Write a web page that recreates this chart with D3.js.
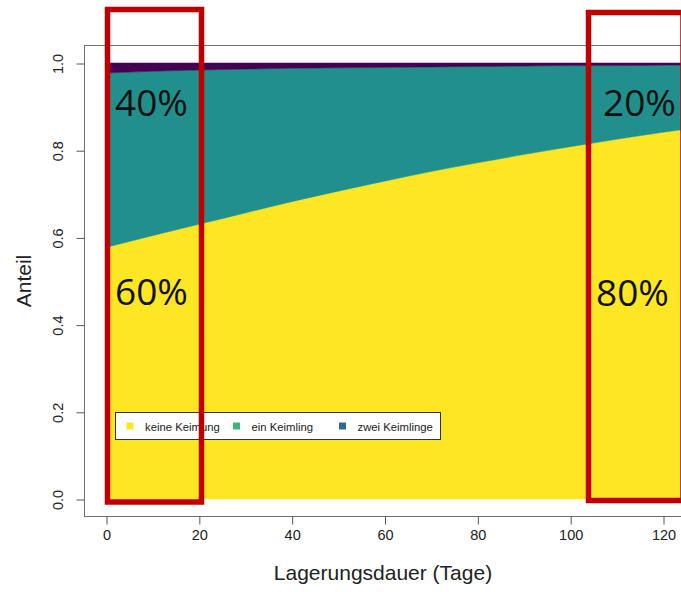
<!DOCTYPE html>
<html>
<head>
<meta charset="utf-8">
<script src="https://cdn.jsdelivr.net/npm/d3@7"></script>
<style>
  html, body { margin: 0; padding: 0; background: #fff; }
  svg { display: block; }
</style>
</head>
<body>
<svg id="chart" width="681" height="592"></svg>
<script>
// Storage duration in days
const days = [0, 10, 20, 30, 40, 50, 60, 70, 80, 90, 100, 110, 120, 130];
// Share of seeds per germination class
const keineKeimung   = [0.577, 0.604, 0.630, 0.656, 0.682, 0.706, 0.729, 0.751, 0.771, 0.790, 0.808, 0.825, 0.841, 0.855];
const einKeimling    = [0.400, 0.377, 0.354, 0.330, 0.306, 0.283, 0.261, 0.240, 0.221, 0.203, 0.186, 0.169, 0.154, 0.141];
const zweiKeimlinge  = [0.023, 0.019, 0.016, 0.014, 0.012, 0.011, 0.010, 0.009, 0.008, 0.007, 0.006, 0.006, 0.005, 0.004];

const seriesNames  = ["keine Keimung", "ein Keimling", "zwei Keimlinge"];
const fillColors   = ["#FDE725", "#21908C", "#440154"];
const legendColors = ["#FDE725", "#35B779", "#31688E"];

const xTicks = [0, 20, 40, 60, 80, 100, 120];
const yTicks = [0, 0.2, 0.4, 0.6, 0.8, 1.0];
const yTickLabels = ["0.0", "0.2", "0.4", "0.6", "0.8", "1.0"];

const calloutTexts = ["40%", "60%", "20%", "80%"];

const svg = d3.select("#chart");
const font = "'Liberation Sans', Arial, sans-serif";

const x = d3.scaleLinear().domain([0, 120]).range([106, 663]);
const y = d3.scaleLinear().domain([0, 1]).range([499, 63]);

// plot frame (right side runs past the canvas)
const frame = { left: 84, top: 45, right: 700, bottom: 516 };

const rows = days.map((d, i) => ({
  day: d,
  [seriesNames[0]]: keineKeimung[i],
  [seriesNames[1]]: einKeimling[i],
  [seriesNames[2]]: zweiKeimlinge[i]
}));

const stacked = d3.stack().keys(seriesNames)(rows);

svg.append("clipPath").attr("id", "plotClip")
  .append("rect")
  .attr("x", frame.left).attr("y", frame.top)
  .attr("width", frame.right - frame.left).attr("height", frame.bottom - frame.top);

const area = d3.area()
  .x(d => x(d.data.day))
  .y0(d => y(d[0]))
  .y1(d => y(d[1]))
  .curve(d3.curveMonotoneX);

svg.append("g").attr("clip-path", "url(#plotClip)")
  .selectAll("path")
  .data(stacked)
  .join("path")
  .attr("d", area)
  .attr("fill", (d, i) => fillColors[i])
  .attr("stroke", (d, i) => fillColors[i])
  .attr("stroke-width", 0.5);

// frame
svg.append("rect")
  .attr("x", frame.left + 0.5).attr("y", frame.top + 0.5)
  .attr("width", frame.right - frame.left).attr("height", frame.bottom - frame.top)
  .attr("fill", "none").attr("stroke", "#707070").attr("stroke-width", 1);

// x axis
const xAxis = d3.axisBottom(x).tickValues(xTicks).tickSize(8).tickPadding(6).tickFormat(d3.format("d"));
const gx = svg.append("g").attr("transform", `translate(0.5,${frame.bottom + 0.5})`).call(xAxis);
gx.select(".domain").remove();
gx.selectAll(".tick line").attr("stroke", "#555");
gx.selectAll(".tick text")
  .attr("font-family", font).attr("font-size", 14.5).attr("fill", "#222")
  .attr("dy", null).attr("y", 23);

// y axis
const yAxis = d3.axisLeft(y).tickValues(yTicks).tickSize(8).tickFormat((d, i) => yTickLabels[i]);
const gy = svg.append("g").attr("transform", `translate(${frame.left + 0.5},0.5)`).call(yAxis);
gy.select(".domain").remove();
gy.selectAll(".tick line").attr("stroke", "#555");
gy.selectAll(".tick text")
  .attr("font-family", font).attr("font-size", 14.5).attr("fill", "#222")
  .attr("x", null).attr("dy", null)
  .attr("text-anchor", "middle")
  .attr("transform", "translate(-22,0) rotate(-90)");

// axis titles
svg.append("text")
  .attr("x", 383).attr("y", 580)
  .attr("text-anchor", "middle")
  .attr("font-family", font).attr("font-size", 21).attr("fill", "#222")
  .text("Lagerungsdauer (Tage)");

svg.append("text")
  .attr("transform", `translate(31,${y(0.5)}) rotate(-90)`)
  .attr("text-anchor", "middle")
  .attr("font-family", font).attr("font-size", 21).attr("fill", "#222")
  .text("Anteil");

// legend
const legend = svg.append("g");
legend.append("rect")
  .attr("x", 115.5).attr("y", 412.5).attr("width", 325).attr("height", 27)
  .attr("fill", "#fff").attr("stroke", "#333").attr("stroke-width", 1);
const legendX = [130, 236.5, 342.5];
seriesNames.forEach((name, i) => {
  legend.append("rect")
    .attr("x", legendX[i] - 3.5).attr("y", 422.5).attr("width", 7).attr("height", 7)
    .attr("fill", legendColors[i]);
  legend.append("text")
    .attr("x", legendX[i] + 15).attr("y", 430.5)
    .attr("font-family", font).attr("font-size", 11.3).attr("fill", "#222")
    .text(name);
});

// highlighted time windows
const callout = svg.append("g");
callout.append("rect")
  .attr("x", 107.5).attr("y", 9.5).attr("width", 94).attr("height", 492.5)
  .attr("fill", "none").attr("stroke", "#C00000").attr("stroke-width", 5.5);
callout.append("rect")
  .attr("x", 588.5).attr("y", 12.5).attr("width", 94.5).attr("height", 488)
  .attr("fill", "none").attr("stroke", "#C00000").attr("stroke-width", 5.5);

const calloutFont = "'Open Sans', 'Noto Sans', sans-serif";
const calloutPos = [[115, 116], [115, 305], [603, 116], [596, 306]];
calloutTexts.forEach((t, i) => {
  callout.append("text")
    .attr("x", calloutPos[i][0]).attr("y", calloutPos[i][1])
    .attr("font-family", calloutFont).attr("font-size", 37).attr("fill", "#111")
    .text(t);
});
</script>
</body>
</html>
